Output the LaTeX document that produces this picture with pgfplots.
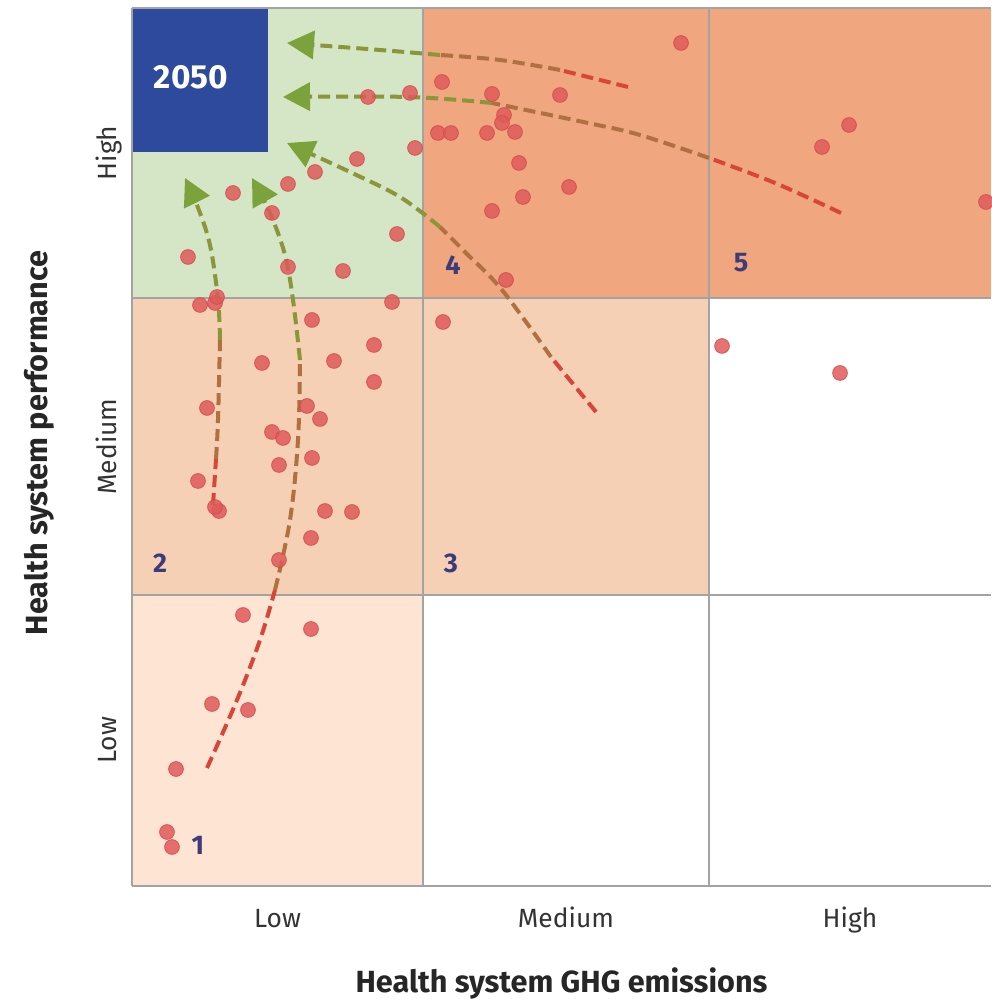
\documentclass[border=0pt]{standalone}
\usepackage{fontspec}
\setmainfont{Fira Sans}
\usepackage{pgfplots}
\pgfplotsset{compat=1.18}
\usetikzlibrary{arrows.meta}
\definecolor{cgreen}{HTML}{D5E6C6}
\definecolor{corange}{HTML}{F0A67E}
\definecolor{cpeach}{HTML}{F6D0B4}
\definecolor{clight}{HTML}{FDE4D3}
\definecolor{cblue}{HTML}{2E4A9C}
\definecolor{cgrid}{HTML}{A3A3A3}
\definecolor{cpt}{HTML}{E05A5A}
\definecolor{cptd}{HTML}{D04A4A}
\definecolor{cred}{HTML}{D8463A}
\definecolor{cbrown}{HTML}{B07040}
\definecolor{colive}{HTML}{8A963A}
\definecolor{carrow}{HTML}{7CA23C}
\definecolor{cnum}{HTML}{3D3B7A}
\definecolor{ctext}{HTML}{333333}
\pgfplotsset{
  cdash/.style={line width=2pt, dash pattern=on 6pt off 3pt, smooth, tension=0.6, forget plot},
  carr/.style={-{Triangle[length=13.5pt,width=14pt,color=carrow]}},
  region/.style={draw=none, forget plot},
  gline/.style={draw=cgrid, line width=1.1pt, forget plot},
}
\begin{document}
\begin{tikzpicture}
\begin{axis}[
  scale only axis, width=429.5pt, height=439pt,
  xmin=132, xmax=991, ymin=113, ymax=991,
  clip=false,
  axis line style={draw=none},
  major tick length=0pt,
  xtick={277.5,566,850}, xticklabels={Low,Medium,High},
  ytick={258.5,552.5,846}, yticklabels={Low,Medium,High},
  tick label style={font=\fontsize{13.2}{16}\selectfont, text=ctext},
  xticklabel style={anchor=base},
  xticklabel shift=20.5pt,
  yticklabel style={rotate=90, anchor=base},
  yticklabel shift=8pt,
  xlabel={Health system GHG emissions},
  ylabel={Health system performance},
  every axis x label/.style={at={(axis description cs:0.5,0)}, yshift=-53pt, anchor=base, font=\fontsize{15.3}{18}\selectfont\bfseries, text=black!85},
  every axis y label/.style={at={(axis description cs:0,0.5)}, xshift=-42pt, yshift=2pt, rotate=90, anchor=base, font=\fontsize{15.3}{18}\selectfont\bfseries, text=black!85},
]
% regions
\addplot[region, fill=cgreen] coordinates {(132,701) (423,701) (423,991) (132,991)} -- cycle;
\addplot[region, fill=corange] coordinates {(423,701) (709,701) (709,991) (423,991)} -- cycle;
\addplot[region, fill=corange] coordinates {(709,701) (991,701) (991,991) (709,991)} -- cycle;
\addplot[region, fill=cpeach] coordinates {(132,404) (423,404) (423,701) (132,701)} -- cycle;
\addplot[region, fill=cpeach] coordinates {(423,404) (709,404) (709,701) (423,701)} -- cycle;
\addplot[region, fill=clight] coordinates {(132,113) (423,113) (423,404) (132,404)} -- cycle;
\addplot[region, fill=cblue] coordinates {(132,847) (268,847) (268,991) (132,991)} -- cycle;
% grid lines
\addplot[gline] coordinates {(423,113) (423,991)};
\addplot[gline] coordinates {(709,113) (709,991)};
\addplot[gline] coordinates {(132,701) (991,701)};
\addplot[gline] coordinates {(132,404) (991,404)};
\addplot[gline] coordinates {(132,991) (991,991)};
\addplot[gline] coordinates {(132,113) (991,113)};
\addplot[gline] coordinates {(132,113) (132,991)};
% points
\addplot[only marks, mark=*, mark size=3.7pt, mark options={fill=cpt, draw=cptd, line width=0.4pt, opacity=0.85}] coordinates {
(233,806) (272,786) (288,815) (315,827) (357,840) (415,851) (188,742) (343,728) (397,765) (288,732) (368,902) (410,906) (200,694) (215,696) (217,702) (392,697)
(442,917) (492,905) (560,904) (504,884) (502,876) (438,866) (451,866) (487,866) (515,867) (519,836) (569,812) (523,802) (492,788) (506,719) (681,956)
(849,874) (822,852) (986,797)
(312,679) (374,654) (262,636) (334,638) (374,617) (207,591) (307,593) (320,580) (272,567) (283,561) (312,541) (279,534) (198,518) (219,488) (215,492) (325,488) (352,487) (311,461) (279,439)
(443,677) (722,653) (840,626)
(243,384) (311,370) (212,295) (248,289) (176,230) (167,167) (172,152)
};
% curve A
\addplot[cdash, cred] coordinates {(207,231) (237,299) (260,359) (275,409)};
\addplot[cdash, cbrown] coordinates {(275,409) (290,479) (298,559) (300,639)};
\addplot[cdash, colive, carr] coordinates {(300,639) (293,699) (285,744) (270,786) (252,821)};
% curve B
\addplot[cdash, cred] coordinates {(213,494) (216,540)};
\addplot[cdash, cbrown] coordinates {(216,540) (218,579) (220,659)};
\addplot[cdash, colive, carr] coordinates {(220,659) (218,699) (210,754) (197,794) (185,821)};
% curve C
\addplot[cdash, cred] coordinates {(596,587) (551,642)};
\addplot[cdash, cbrown] coordinates {(551,642) (502,709) (466,746) (440,772)};
\addplot[cdash, colive, carr] coordinates {(440,772) (400,802) (350,827) (287,856)};
% curve D
\addplot[cdash, cred] coordinates {(841,786) (775,816) (709,841)};
\addplot[cdash, cbrown] coordinates {(709,841) (640,864) (588,876) (492,896)};
\addplot[cdash, colive, carr] coordinates {(492,896) (408,902) (283,902)};
% curve E
\addplot[cdash, cred] coordinates {(628,912) (560,929)};
\addplot[cdash, cbrown] coordinates {(560,929) (500,939) (440,944)};
\addplot[cdash, colive, carr] coordinates {(440,944) (380,949) (287,956)};
% labels
\node[text=white, font=\fontsize{16.7}{20}\selectfont\bfseries] at (axis cs:191,922) {2050};
\node[text=cnum, font=\fontsize{13.5}{16}\selectfont\bfseries] at (axis cs:198,154) {1};
\node[text=cnum, font=\fontsize{13.5}{16}\selectfont\bfseries] at (axis cs:160,436) {2};
\node[text=cnum, font=\fontsize{13.5}{16}\selectfont\bfseries] at (axis cs:451,436) {3};
\node[text=cnum, font=\fontsize{13.5}{16}\selectfont\bfseries] at (axis cs:453,734) {4};
\node[text=cnum, font=\fontsize{13.5}{16}\selectfont\bfseries] at (axis cs:741,736) {5};
\end{axis}
\pgfresetboundingbox
\path[use as bounding box] (-66pt,-56.5pt) rectangle (429.5pt,443pt);
\end{tikzpicture}
\end{document}
